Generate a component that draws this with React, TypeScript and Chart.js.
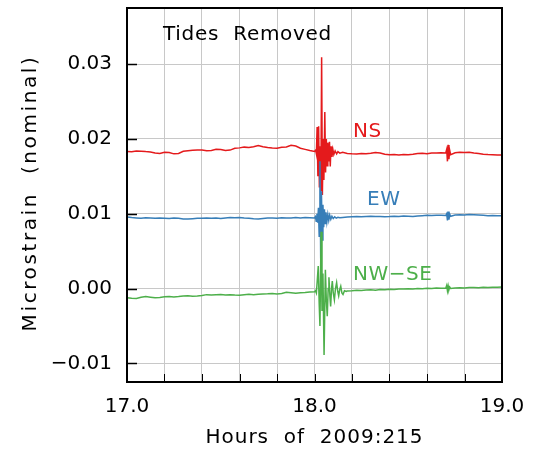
import { useEffect, useRef } from 'react';
import { Chart, registerables } from 'chart.js';

Chart.register(...registerables);

// ---------- text ----------
const seriesNames = ['NS', 'EW', 'NW\u2212SE'];
const chartNote = 'Tides  Removed';
const xAxisTitle = 'Hours  of  2009:215';
const yAxisTitle = 'Microstrain  (nominal)';

// ---------- ticks ----------
const xLabelHours = [17, 18, 19];
const xTickLabels = ['17.0', '18.0', '19.0'];
const yTickValues = [-0.01, 0.0, 0.01, 0.02, 0.03];
const yTickLabels = ['\u22120.01', '0.00', '0.01', '0.02', '0.03'];

// ---------- shared quiet-time hours ----------
const preHours = [
  17.000, 17.025, 17.050, 17.075, 17.100, 17.125, 17.150, 17.175, 17.200, 17.225,
  17.250, 17.275, 17.300, 17.325, 17.350, 17.375, 17.400, 17.425, 17.450, 17.475,
  17.500, 17.525, 17.550, 17.575, 17.600, 17.625, 17.650, 17.675, 17.700, 17.725,
  17.750, 17.775, 17.800, 17.825, 17.850, 17.875, 17.900, 17.925, 17.950, 17.975,
];
const postHours = [
  18.175, 18.200, 18.225, 18.250, 18.275, 18.300, 18.325, 18.350, 18.375, 18.400,
  18.425, 18.450, 18.475, 18.500, 18.525, 18.550, 18.575, 18.600, 18.625, 18.650,
  18.675, 18.700,
  18.705, 18.709, 18.713, 18.717, 18.721, 18.726,
  18.750, 18.775, 18.800, 18.825, 18.850, 18.875, 18.900, 18.925, 18.950, 18.975, 19.000,
];

// ---------- NS ----------
const nsPre = [
  0.01832, 0.01828, 0.01838, 0.01836, 0.01830, 0.01826, 0.01812, 0.01805, 0.01822, 0.01818,
  0.01800, 0.01806, 0.01835, 0.01842, 0.01848, 0.01853, 0.01850, 0.01843, 0.01846, 0.01860,
  0.01858, 0.01846, 0.01850, 0.01874, 0.01880, 0.01890, 0.01886, 0.01894, 0.01910, 0.01896,
  0.01884, 0.01878, 0.01874, 0.01888, 0.01892, 0.01915, 0.01905, 0.01876, 0.01860, 0.01845,
];
const nsQuakeHours = [
  18.000, 18.006, 18.010, 18.014, 18.018, 18.022, 18.026, 18.030, 18.034, 18.038,
  18.042, 18.046, 18.050, 18.055, 18.059, 18.063, 18.067, 18.071, 18.075, 18.080,
  18.084, 18.088, 18.093, 18.098, 18.103, 18.110, 18.118, 18.125, 18.135, 18.150,
];
const nsQuake = [
  0.01832, 0.01850, 0.01800, 0.02160, 0.01500, 0.02170, 0.01350, 0.01900, 0.01300, 0.03090,
  0.01250, 0.02000, 0.01450, 0.02360, 0.01550, 0.02000, 0.01640, 0.01950, 0.01700, 0.01960,
  0.01630, 0.01900, 0.01760, 0.01860, 0.01790, 0.01840, 0.01800, 0.01830, 0.01810, 0.01820,
];
const nsPost = [
  0.01806, 0.01800, 0.01798, 0.01804, 0.01800, 0.01808, 0.01818, 0.01810, 0.01796, 0.01788,
  0.01790, 0.01786, 0.01792, 0.01788, 0.01796, 0.01806, 0.01808, 0.01800, 0.01812, 0.01810,
  0.01814, 0.01812,
  0.01860, 0.01700, 0.01920, 0.01730, 0.01850, 0.01790,
  0.01815, 0.01820, 0.01818, 0.01820, 0.01812, 0.01806, 0.01796, 0.01790, 0.01788, 0.01784, 0.01786,
];

// ---------- EW ----------
const ewPre = [
  0.00956, 0.00948, 0.00944, 0.00940, 0.00946, 0.00942, 0.00938, 0.00944, 0.00940, 0.00936,
  0.00942, 0.00938, 0.00930, 0.00928, 0.00934, 0.00940, 0.00938, 0.00944, 0.00940, 0.00942,
  0.00936, 0.00944, 0.00948, 0.00946, 0.00950, 0.00944, 0.00940, 0.00934, 0.00930, 0.00936,
  0.00942, 0.00944, 0.00940, 0.00946, 0.00942, 0.00944, 0.00948, 0.00944, 0.00950, 0.00946,
];
const ewQuakeHours = [
  18.000, 18.005, 18.009, 18.013, 18.017, 18.021, 18.025, 18.029, 18.033, 18.037,
  18.041, 18.045, 18.049, 18.053, 18.057, 18.061, 18.066, 18.071, 18.076, 18.081,
  18.087, 18.093, 18.100, 18.108, 18.116, 18.125, 18.135, 18.150,
];
const ewQuake = [
  0.00942, 0.00960, 0.00900, 0.01000, 0.00880, 0.01080, 0.00700, 0.01700, 0.00400, 0.01300,
  0.00650, 0.01120, 0.00820, 0.01060, 0.00870, 0.01020, 0.00890, 0.00990, 0.00910, 0.00980,
  0.00925, 0.00965, 0.00935, 0.00958, 0.00940, 0.00952, 0.00945, 0.00950,
];
const ewPost = [
  0.00956, 0.00960, 0.00962, 0.00958, 0.00962, 0.00966, 0.00962, 0.00964, 0.00960, 0.00962,
  0.00966, 0.00964, 0.00968, 0.00966, 0.00964, 0.00970, 0.00974, 0.00978, 0.00976, 0.00980,
  0.00978, 0.00976,
  0.01000, 0.00910, 0.01030, 0.00920, 0.00995, 0.00965,
  0.00982, 0.00986, 0.00984, 0.00988, 0.00986, 0.00982, 0.00978, 0.00974, 0.00976, 0.00972, 0.00974,
];

// ---------- NW-SE ----------
const nwPre = [
  -0.00124, -0.00130, -0.00133, -0.00118, -0.00108, -0.00116, -0.00124, -0.00120, -0.00110, -0.00106,
  -0.00112, -0.00108, -0.00100, -0.00097, -0.00104, -0.00100, -0.00094, -0.00082, -0.00088, -0.00084,
  -0.00080, -0.00086, -0.00082, -0.00088, -0.00090, -0.00082, -0.00078, -0.00084, -0.00076, -0.00072,
  -0.00070, -0.00066, -0.00072, -0.00068, -0.00050, -0.00056, -0.00064, -0.00058, -0.00054, -0.00048,
];
const nwQuakeHours = [
  18.000, 18.005, 18.010, 18.014, 18.020, 18.025, 18.029, 18.035, 18.040, 18.045,
  18.051, 18.058, 18.063, 18.068, 18.073, 18.077, 18.082, 18.086, 18.091, 18.095,
  18.100, 18.106, 18.112, 18.118, 18.124, 18.129, 18.135, 18.140, 18.146, 18.152,
  18.160, 18.170,
];
const nwQuake = [
  -0.00045, -0.00030, -0.00060, 0.00080, 0.00300, -0.00200, -0.00500, 0.00760, -0.00300, 0.00200,
  -0.00890, 0.00250, -0.00150, -0.00370, 0.00000, 0.00150, -0.00100, -0.00240, 0.00000, 0.00100,
  -0.00060, -0.00150, 0.00000, 0.00080, -0.00040, -0.00100, -0.00010, 0.00030, -0.00060, -0.00080,
  -0.00030, -0.00040,
];
const nwPost = [
  -0.00032, -0.00030, -0.00024, -0.00028, -0.00020, -0.00018, -0.00022, -0.00014, -0.00016, -0.00010,
  -0.00012, -0.00006, -0.00008, -0.00004, -0.00006, 0.00000, -0.00002, 0.00004, 0.00000, 0.00006,
  0.00004, 0.00002,
  0.00040, -0.00030, 0.00035, -0.00015, 0.00020, 0.00000,
  0.00008, 0.00010, 0.00006, 0.00012, 0.00014, 0.00010, 0.00016, 0.00012, 0.00018, 0.00016, 0.00020,
];

const COLORS = ['#e41a1c', '#377eb8', '#4daf4a'];
const FONT = "'DejaVu Sans', sans-serif";

function toPoints(hours: number[], values: number[]) {
  return hours.map((h, i) => ({ x: h, y: values[i] }));
}

const decorPlugin = {
  id: 'decor',
  afterDraw(chart: any) {
    const { ctx, chartArea, scales } = chart;
    const { left, right, top, bottom } = chartArea;
    ctx.save();
    // inward ticks
    ctx.strokeStyle = '#000';
    ctx.lineWidth = 1.5;
    yTickValues.forEach((v) => {
      const y = Math.round(scales.y.getPixelForValue(v)) + 0.5;
      ctx.beginPath();
      ctx.moveTo(left, y);
      ctx.lineTo(left + 10, y);
      ctx.stroke();
    });
    ctx.lineWidth = 1;
    scales.x.ticks.forEach((t: any) => {
      const x = Math.round(scales.x.getPixelForValue(t.value)) + 0.5;
      ctx.beginPath();
      ctx.moveTo(x, bottom);
      ctx.lineTo(x, bottom - 8);
      ctx.stroke();
    });
    // frame
    ctx.lineWidth = 2;
    ctx.strokeRect(left, top, right - left, bottom - top);

    // annotation texts
    ctx.textBaseline = 'middle';
    ctx.textAlign = 'left';
    ctx.font = `20px ${FONT}`;
    (ctx as any).letterSpacing = '0.7px';
    ctx.fillStyle = '#000';
    ctx.fillText(chartNote, 163, 35);

    (ctx as any).letterSpacing = '0.5px';
    const labelPos = [
      [353, 132],
      [367, 200],
      [353, 275],
    ];
    seriesNames.forEach((name, i) => {
      ctx.fillStyle = COLORS[i];
      ctx.fillText(name, labelPos[i][0], labelPos[i][1]);
    });

    // axis titles
    ctx.fillStyle = '#000';
    (ctx as any).letterSpacing = '1px';
    const wx = ctx.measureText(xAxisTitle).width;
    ctx.fillText(xAxisTitle, (left + right) / 2 - wx / 2, 438);

    (ctx as any).letterSpacing = '2.6px';
    const wy = ctx.measureText(yAxisTitle).width;
    ctx.translate(31, 193);
    ctx.rotate(-Math.PI / 2);
    ctx.fillText(yAxisTitle, -wy / 2, 0);
    ctx.restore();
  },
};

export default function App() {
  const ref = useRef<HTMLCanvasElement | null>(null);

  useEffect(() => {
    document.body.style.margin = '0';
    if (!ref.current) return;
    const chart = new Chart(ref.current, {
      type: 'line',
      data: {
        datasets: [
          {
            label: seriesNames[0],
            data: toPoints([...preHours, ...nsQuakeHours, ...postHours], [...nsPre, ...nsQuake, ...nsPost]),
            borderColor: COLORS[0],
            borderWidth: 1.5,
            pointRadius: 0,
            tension: 0,
            order: 3,
          },
          {
            label: seriesNames[1],
            data: toPoints([...preHours, ...ewQuakeHours, ...postHours], [...ewPre, ...ewQuake, ...ewPost]),
            borderColor: COLORS[1],
            borderWidth: 1.5,
            pointRadius: 0,
            tension: 0,
            order: 2,
          },
          {
            label: seriesNames[2],
            data: toPoints([...preHours, ...nwQuakeHours, ...postHours], [...nwPre, ...nwQuake, ...nwPost]),
            borderColor: COLORS[2],
            borderWidth: 1.5,
            pointRadius: 0,
            tension: 0,
            order: 1,
          },
        ],
      },
      options: {
        animation: false,
        responsive: false,
        maintainAspectRatio: false,
        layout: { padding: { top: 8, right: 42, left: 0, bottom: 0 } },
        plugins: { legend: { display: false }, tooltip: { enabled: false } },
        scales: {
          x: {
            type: 'linear',
            min: 17,
            max: 19,
            afterFit: (s: any) => {
              s.height = 68;
              s.paddingLeft = 0;
              s.paddingRight = 0;
            },
            ticks: {
              stepSize: 0.2,
              autoSkip: false,
              maxRotation: 0,
              includeBounds: false,
              padding: 13,
              color: '#000',
              font: { family: FONT, size: 20 },
              callback: (v: any) => {
                const idx = xLabelHours.findIndex((h) => Math.abs(h - Number(v)) < 1e-6);
                return idx >= 0 ? xTickLabels[idx] : '';
              },
            },
            grid: { color: '#c8c8c8', lineWidth: 1, drawTicks: false },
            border: { display: false },
          },
          y: {
            type: 'linear',
            min: -0.0125,
            max: 0.0375,
            afterFit: (s: any) => {
              s.width = 127;
              s.paddingTop = 0;
              s.paddingBottom = 0;
            },
            afterBuildTicks: (s: any) => {
              s.ticks = yTickValues.map((v) => ({ value: v }));
            },
            ticks: {
              padding: 15,
              color: '#000',
              font: { family: FONT, size: 20 },
              callback: (_v: any, i: number) => yTickLabels[i],
            },
            grid: { color: '#c8c8c8', lineWidth: 1, drawTicks: false },
            border: { display: false },
          },
        },
      },
      plugins: [decorPlugin],
    });
    return () => chart.destroy();
  }, []);

  return (
    <div style={{ width: 544, height: 450 }}>
      <canvas ref={ref} width={544} height={450} style={{ display: 'block' }} />
    </div>
  );
}
